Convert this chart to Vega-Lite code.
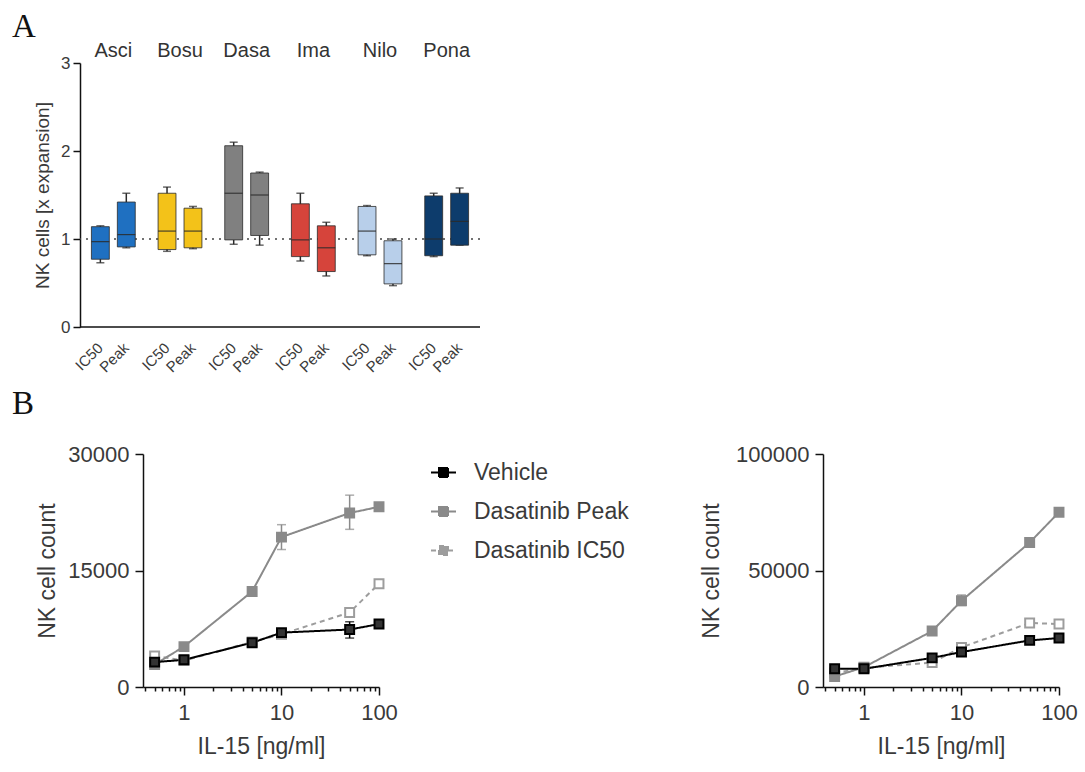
{
  "$schema": "https://vega.github.io/schema/vega-lite/v6.json",
  "padding": {"left": 12, "top": 11, "right": 5, "bottom": 5},
  "bounds": "flush",
  "spacing": 127,
  "config": {
    "view": {"stroke": null},
    "font": "Liberation Sans",
    "axis": {"grid": false, "domainColor": "#111", "tickColor": "#111", "labelColor": "#3a3a3a", "titleColor": "#3a3a3a", "titleFontWeight": "normal"}
  },
  "datasets": {
    "boxes": [
      {"drug": "Asci", "cond": "IC50", "min": 0.73, "q1": 0.77, "median": 0.97, "q3": 1.14, "max": 1.15},
      {"drug": "Asci", "cond": "Peak", "min": 0.90, "q1": 0.91, "median": 1.05, "q3": 1.42, "max": 1.52},
      {"drug": "Bosu", "cond": "IC50", "min": 0.86, "q1": 0.88, "median": 1.09, "q3": 1.52, "max": 1.59},
      {"drug": "Bosu", "cond": "Peak", "min": 0.89, "q1": 0.90, "median": 1.09, "q3": 1.35, "max": 1.37},
      {"drug": "Dasa", "cond": "IC50", "min": 0.94, "q1": 0.99, "median": 1.52, "q3": 2.06, "max": 2.10},
      {"drug": "Dasa", "cond": "Peak", "min": 0.93, "q1": 1.04, "median": 1.50, "q3": 1.75, "max": 1.76},
      {"drug": "Ima", "cond": "IC50", "min": 0.75, "q1": 0.80, "median": 0.99, "q3": 1.40, "max": 1.52},
      {"drug": "Ima", "cond": "Peak", "min": 0.58, "q1": 0.63, "median": 0.90, "q3": 1.15, "max": 1.19},
      {"drug": "Nilo", "cond": "IC50", "min": 0.81, "q1": 0.82, "median": 1.09, "q3": 1.37, "max": 1.38},
      {"drug": "Nilo", "cond": "Peak", "min": 0.47, "q1": 0.49, "median": 0.72, "q3": 0.98, "max": 1.00},
      {"drug": "Pona", "cond": "IC50", "min": 0.80, "q1": 0.81, "median": 1.00, "q3": 1.49, "max": 1.52},
      {"drug": "Pona", "cond": "Peak", "min": 0.93, "q1": 0.93, "median": 1.20, "q3": 1.52, "max": 1.58}
    ],
    "growth": [
      {"panel": "left", "group": "Dasatinib IC50", "conc": 0.5, "count": 4000},
      {"panel": "left", "group": "Dasatinib IC50", "conc": 1, "count": 3400},
      {"panel": "left", "group": "Dasatinib IC50", "conc": 5, "count": 5800},
      {"panel": "left", "group": "Dasatinib IC50", "conc": 10, "count": 6800},
      {"panel": "left", "group": "Dasatinib IC50", "conc": 50, "count": 9600},
      {"panel": "left", "group": "Dasatinib IC50", "conc": 100, "count": 13300},
      {"panel": "left", "group": "Dasatinib Peak", "conc": 0.5, "count": 2900},
      {"panel": "left", "group": "Dasatinib Peak", "conc": 1, "count": 5200},
      {"panel": "left", "group": "Dasatinib Peak", "conc": 5, "count": 12300},
      {"panel": "left", "group": "Dasatinib Peak", "conc": 10, "count": 19300, "lo": 17700, "hi": 20900},
      {"panel": "left", "group": "Dasatinib Peak", "conc": 50, "count": 22400, "lo": 20300, "hi": 24700},
      {"panel": "left", "group": "Dasatinib Peak", "conc": 100, "count": 23200},
      {"panel": "left", "group": "Vehicle", "conc": 0.5, "count": 3200},
      {"panel": "left", "group": "Vehicle", "conc": 1, "count": 3500},
      {"panel": "left", "group": "Vehicle", "conc": 5, "count": 5700},
      {"panel": "left", "group": "Vehicle", "conc": 10, "count": 7000},
      {"panel": "left", "group": "Vehicle", "conc": 50, "count": 7400, "lo": 6300, "hi": 8400},
      {"panel": "left", "group": "Vehicle", "conc": 100, "count": 8100},
      {"panel": "right", "group": "Dasatinib IC50", "conc": 0.5, "count": 6000},
      {"panel": "right", "group": "Dasatinib IC50", "conc": 1, "count": 8200},
      {"panel": "right", "group": "Dasatinib IC50", "conc": 5, "count": 10500},
      {"panel": "right", "group": "Dasatinib IC50", "conc": 10, "count": 17000},
      {"panel": "right", "group": "Dasatinib IC50", "conc": 50, "count": 27500},
      {"panel": "right", "group": "Dasatinib IC50", "conc": 100, "count": 27000},
      {"panel": "right", "group": "Dasatinib Peak", "conc": 0.5, "count": 4500},
      {"panel": "right", "group": "Dasatinib Peak", "conc": 1, "count": 8500},
      {"panel": "right", "group": "Dasatinib Peak", "conc": 5, "count": 24000},
      {"panel": "right", "group": "Dasatinib Peak", "conc": 10, "count": 37000, "lo": 35000, "hi": 39500},
      {"panel": "right", "group": "Dasatinib Peak", "conc": 50, "count": 62000},
      {"panel": "right", "group": "Dasatinib Peak", "conc": 100, "count": 75000},
      {"panel": "right", "group": "Vehicle", "conc": 0.5, "count": 7800},
      {"panel": "right", "group": "Vehicle", "conc": 1, "count": 7800},
      {"panel": "right", "group": "Vehicle", "conc": 5, "count": 12500},
      {"panel": "right", "group": "Vehicle", "conc": 10, "count": 15000},
      {"panel": "right", "group": "Vehicle", "conc": 50, "count": 20000},
      {"panel": "right", "group": "Vehicle", "conc": 100, "count": 21000}
    ]
  },
  "vconcat": [
    {
      "width": 400,
      "height": 264,
      "title": {"text": "A", "anchor": "start", "frame": "group", "dx": -68, "offset": -4, "font": "Liberation Serif", "fontSize": 33, "fontWeight": "normal", "color": "#111"},
      "data": {"name": "boxes"},
      "layer": [
        {
          "data": {"values": [{}]},
          "mark": {"type": "rule", "strokeDash": [2, 5], "color": "#444", "strokeWidth": 1.5},
          "encoding": {"y": {"datum": 1, "type": "quantitative"}}
        },
        {
          "mark": {"type": "rule", "color": "#2a2a2a", "strokeWidth": 1.5},
          "encoding": {
            "x": {"field": "drug", "type": "nominal", "sort": ["Asci", "Bosu", "Dasa", "Ima", "Nilo", "Pona"], "scale": {"paddingInner": 0, "paddingOuter": 0},
                  "axis": {"orient": "top", "title": null, "domain": false, "ticks": false, "labelAngle": 0, "labelFontSize": 20, "labelPadding": 3, "labelDx": -5, "labelColor": "#333"}},
            "xOffset": {"field": "cond", "type": "nominal", "sort": ["IC50", "Peak"], "scale": {"paddingInner": 0.31, "paddingOuter": 0.44}},
            "y": {"field": "min", "type": "quantitative", "scale": {"domain": [0, 3], "nice": false},
                  "axis": {"values": [0, 1, 2, 3], "format": "d", "title": "NK cells [x expansion]", "titleFontSize": 19, "titlePadding": 8, "labelFontSize": 17, "tickSize": 7, "tickWidth": 1.5, "domainWidth": 1.5, "labelPadding": 3}},
            "y2": {"field": "max"}
          }
        },
        {
          "mark": {"type": "tick", "orient": "horizontal", "size": 8, "thickness": 1.5, "color": "#2a2a2a"},
          "encoding": {
            "x": {"field": "drug", "type": "nominal", "sort": ["Asci", "Bosu", "Dasa", "Ima", "Nilo", "Pona"]},
            "xOffset": {"field": "cond", "type": "nominal", "sort": ["IC50", "Peak"]},
            "y": {"field": "min", "type": "quantitative"}
          }
        },
        {
          "mark": {"type": "tick", "orient": "horizontal", "size": 8, "thickness": 1.5, "color": "#2a2a2a"},
          "encoding": {
            "x": {"field": "drug", "type": "nominal", "sort": ["Asci", "Bosu", "Dasa", "Ima", "Nilo", "Pona"]},
            "xOffset": {"field": "cond", "type": "nominal", "sort": ["IC50", "Peak"]},
            "y": {"field": "max", "type": "quantitative"}
          }
        },
        {
          "mark": {"type": "bar", "stroke": "#2a2a2a", "strokeWidth": 1, "strokeOpacity": 0.8, "opacity": 1},
          "encoding": {
            "x": {"field": "drug", "type": "nominal", "sort": ["Asci", "Bosu", "Dasa", "Ima", "Nilo", "Pona"]},
            "xOffset": {"field": "cond", "type": "nominal", "sort": ["IC50", "Peak"]},
            "y": {"field": "q1", "type": "quantitative"},
            "y2": {"field": "q3"},
            "color": {"field": "drug", "type": "nominal", "legend": null,
                      "scale": {"domain": ["Asci", "Bosu", "Dasa", "Ima", "Nilo", "Pona"], "range": ["#1f70c1", "#f3c219", "#808080", "#d6443b", "#b8cfea", "#0d3c6c"]}}
          }
        },
        {
          "mark": {"type": "tick", "orient": "horizontal", "size": 18, "thickness": 1.2, "color": "#2a2a2a", "opacity": 0.85},
          "encoding": {
            "x": {"field": "drug", "type": "nominal", "sort": ["Asci", "Bosu", "Dasa", "Ima", "Nilo", "Pona"]},
            "xOffset": {"field": "cond", "type": "nominal", "sort": ["IC50", "Peak"]},
            "y": {"field": "median", "type": "quantitative"}
          }
        },
        {
          "data": {"values": [{}]},
          "mark": {"type": "rule", "color": "#111", "strokeWidth": 1.5},
          "encoding": {"y": {"datum": 0, "type": "quantitative"}}
        },
        {
          "mark": {"type": "text", "angle": -45, "align": "right", "baseline": "middle", "fontSize": 15, "color": "#3a3a3a"},
          "encoding": {
            "x": {"field": "drug", "type": "nominal", "sort": ["Asci", "Bosu", "Dasa", "Ima", "Nilo", "Pona"]},
            "xOffset": {"field": "cond", "type": "nominal", "sort": ["IC50", "Peak"]},
            "y": {"datum": -0.21, "type": "quantitative"},
            "text": {"field": "cond"}
          }
        }
      ]
    },
    {
      "hconcat": [
        {
          "hconcat": [
            {"width": 63, "height": 10, "data": {"values": [{}]}, "mark": {"type": "point", "opacity": 0}},
            {
              "width": 236,
              "height": 233,
              "title": {"text": "B", "anchor": "start", "frame": "group", "dx": -131, "offset": 22, "font": "Liberation Serif", "fontSize": 33, "fontWeight": "normal", "color": "#111"},
              "data": {"name": "growth"},
              "transform": [{"filter": "datum.panel == 'left'"}],
              "encoding": {
                "x": {"field": "conc", "type": "quantitative",
                      "scale": {"type": "log", "domain": [0.38, 100], "nice": false},
                      "axis": {"values": [0.4, 0.5, 0.6, 0.7, 0.8, 0.9, 1, 2, 3, 4, 5, 6, 7, 8, 9, 10, 20, 30, 40, 50, 60, 70, 80, 90, 100],
                               "labelExpr": "datum.value == 1 || datum.value == 10 || datum.value == 100 ? format(datum.value, 'd') : ''",
                               "tickSize": {"condition": {"test": "datum.value == 1 || datum.value == 10 || datum.value == 100", "value": 8}, "value": 4},
                               "tickWidth": 1.5, "domainWidth": 1.5, "labelFontSize": 22, "labelPadding": 7, "labelOverlap": false, "labelFlush": false,
                               "title": "IL-15 [ng/ml]", "titleFontSize": 23, "titlePadding": 12}},
                "y": {"field": "count", "type": "quantitative",
                      "scale": {"domain": [0, 30000], "nice": false},
                      "axis": {"values": [0, 15000, 30000], "format": "d", "title": "NK cell count", "titleFontSize": 23, "titlePadding": 8,
                               "labelFontSize": 22, "tickSize": 8, "tickWidth": 1.5, "domainWidth": 1.5, "labelPadding": 6}}
              },
              "layer": [
                {
                  "mark": {"type": "line", "strokeWidth": 2},
                  "encoding": {
                    "stroke": {"field": "group", "type": "nominal",
                               "scale": {"domain": ["Vehicle", "Dasatinib Peak", "Dasatinib IC50"], "range": ["#000000", "#8a8a8a", "#9d9d9d"]},
                               "legend": {"title": null, "orient": "none", "legendX": 287, "legendY": 5,
                                          "symbolType": "M-1,0H-0.36M0.36,0H1M-0.36,-0.36H0.36V0.36H-0.36Z", "symbolSize": 625, "symbolStrokeWidth": 2,
                                          "labelFontSize": 23, "labelColor": "#3a3a3a", "rowPadding": 13, "labelOffset": 17, "padding": 0,
                                          "encode": {"symbols": {"update": {"fill": {"signal": "datum.label == 'Dasatinib IC50' ? '#ffffff' : datum.label == 'Vehicle' ? '#333333' : '#8a8a8a'"}}}}}},
                    "strokeDash": {"field": "group", "type": "nominal",
                                   "scale": {"domain": ["Vehicle", "Dasatinib Peak", "Dasatinib IC50"], "range": [[1, 0], [1, 0], [5, 4]]},
                                   "legend": {"title": null}}
                  }
                },
                {
                  "mark": {"type": "rule", "strokeWidth": 1.5},
                  "encoding": {
                    "y": {"field": "lo", "type": "quantitative"},
                    "y2": {"field": "hi"},
                    "stroke": {"field": "group", "type": "nominal"}
                  }
                },
                {
                  "mark": {"type": "tick", "orient": "horizontal", "size": 9, "thickness": 1.5},
                  "encoding": {"y": {"field": "lo", "type": "quantitative"}, "color": {"field": "group", "type": "nominal", "legend": null, "scale": {"domain": ["Vehicle", "Dasatinib Peak", "Dasatinib IC50"], "range": ["#000000", "#8a8a8a", "#9d9d9d"]}}}
                },
                {
                  "mark": {"type": "tick", "orient": "horizontal", "size": 9, "thickness": 1.5},
                  "encoding": {"y": {"field": "hi", "type": "quantitative"}, "color": {"field": "group", "type": "nominal", "legend": null}}
                },
                {
                  "mark": {"type": "point", "shape": "square", "size": 80, "strokeWidth": 2, "opacity": 1},
                  "encoding": {
                    "stroke": {"field": "group", "type": "nominal"},
                    "fill": {"field": "group", "type": "nominal",
                             "scale": {"domain": ["Vehicle", "Dasatinib Peak", "Dasatinib IC50"], "range": ["#333333", "#8a8a8a", "#ffffff"]},
                             "legend": {"title": null}}
                  }
                }
              ]
            }
          ],
          "spacing": 0,
          "bounds": "flush",
          "resolve": {"scale": {"stroke": "independent", "fill": "independent", "strokeDash": "independent", "color": "independent"}, "legend": {"stroke": "independent", "fill": "independent", "strokeDash": "independent", "color": "independent"}}
        },
        {
          "width": 236,
          "height": 233,
          "data": {"name": "growth"},
          "transform": [{"filter": "datum.panel == 'right'"}],
          "encoding": {
            "x": {"field": "conc", "type": "quantitative",
                  "scale": {"type": "log", "domain": [0.38, 100], "nice": false},
                  "axis": {"values": [0.4, 0.5, 0.6, 0.7, 0.8, 0.9, 1, 2, 3, 4, 5, 6, 7, 8, 9, 10, 20, 30, 40, 50, 60, 70, 80, 90, 100],
                           "labelExpr": "datum.value == 1 || datum.value == 10 || datum.value == 100 ? format(datum.value, 'd') : ''",
                           "tickSize": {"condition": {"test": "datum.value == 1 || datum.value == 10 || datum.value == 100", "value": 8}, "value": 4},
                           "tickWidth": 1.5, "domainWidth": 1.5, "labelFontSize": 22, "labelPadding": 7, "labelOverlap": false, "labelFlush": false,
                           "title": "IL-15 [ng/ml]", "titleFontSize": 23, "titlePadding": 12}},
            "y": {"field": "count", "type": "quantitative",
                  "scale": {"domain": [0, 100000], "nice": false},
                  "axis": {"values": [0, 50000, 100000], "format": "d", "title": "NK cell count", "titleFontSize": 23, "titlePadding": 12,
                           "labelFontSize": 22, "tickSize": 8, "tickWidth": 1.5, "domainWidth": 1.5, "labelPadding": 6}}
          },
          "layer": [
            {
              "mark": {"type": "line", "strokeWidth": 2},
              "encoding": {
                "stroke": {"field": "group", "type": "nominal", "legend": null,
                           "scale": {"domain": ["Vehicle", "Dasatinib Peak", "Dasatinib IC50"], "range": ["#000000", "#8a8a8a", "#9d9d9d"]}},
                "strokeDash": {"field": "group", "type": "nominal", "legend": null,
                               "scale": {"domain": ["Vehicle", "Dasatinib Peak", "Dasatinib IC50"], "range": [[1, 0], [1, 0], [5, 4]]}}
              }
            },
            {
              "mark": {"type": "rule", "strokeWidth": 1.5},
              "encoding": {
                "y": {"field": "lo", "type": "quantitative"},
                "y2": {"field": "hi"},
                "stroke": {"field": "group", "type": "nominal", "legend": null}
              }
            },
            {
              "mark": {"type": "tick", "orient": "horizontal", "size": 9, "thickness": 1.5},
              "encoding": {"y": {"field": "lo", "type": "quantitative"}, "color": {"field": "group", "type": "nominal", "legend": null, "scale": {"domain": ["Vehicle", "Dasatinib Peak", "Dasatinib IC50"], "range": ["#000000", "#8a8a8a", "#9d9d9d"]}}}
            },
            {
              "mark": {"type": "tick", "orient": "horizontal", "size": 9, "thickness": 1.5},
              "encoding": {"y": {"field": "hi", "type": "quantitative"}, "color": {"field": "group", "type": "nominal", "legend": null}}
            },
            {
              "mark": {"type": "point", "shape": "square", "size": 80, "strokeWidth": 2, "opacity": 1},
              "encoding": {
                "stroke": {"field": "group", "type": "nominal", "legend": null},
                "fill": {"field": "group", "type": "nominal", "legend": null,
                         "scale": {"domain": ["Vehicle", "Dasatinib Peak", "Dasatinib IC50"], "range": ["#333333", "#8a8a8a", "#ffffff"]}}
              }
            }
          ]
        }
      ],
      "spacing": 743,
      "bounds": "flush",
      "resolve": {"scale": {"stroke": "independent", "fill": "independent", "strokeDash": "independent", "color": "independent"}, "legend": {"stroke": "independent", "fill": "independent", "strokeDash": "independent", "color": "independent"}}
    }
  ]
}
